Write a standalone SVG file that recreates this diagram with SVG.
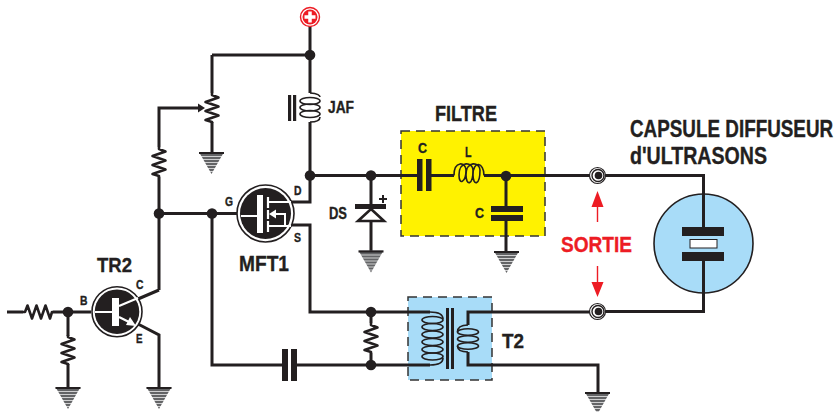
<svg xmlns="http://www.w3.org/2000/svg" width="836" height="412" viewBox="0 0 836 412">
<style>
.w{fill:none;stroke:#231f20;stroke-width:3;stroke-linejoin:miter}
.c{fill:none;stroke:#231f20;stroke-width:1.6}
.p{fill:#231f20}
.d{fill:#231f20}
.t{font-family:"Liberation Sans",Arial,sans-serif;font-weight:700;fill:#231f20;stroke:#231f20;stroke-width:0.35}
.box{stroke:#333;stroke-width:1.5;stroke-dasharray:9 6}
</style>
<defs>
<g id="gnd">
<polygon points="-12.5,0 12.5,0 0,22" fill="#636466"/>
<rect x="-12.5" y="0" width="25" height="2" fill="#231f20"/>
<path d="M-11 4.5H11M-10 7.5H10M-8 10.5H8M-6 13.5H6M-4.5 16.5H4.5M-3 19.5H3" stroke="#fff" stroke-width="0.7" fill="none"/>
</g>
<path id="res" d="M0 0V2L6.500 4.500-6.500 9 6.500 13.500-6.500 18 6.500 22.500-6.500 27 0 29V30" fill="none" stroke="#231f20" stroke-width="2.600" stroke-linejoin="round"/>
<g id="term">
<circle r="8" fill="#fff" stroke="#231f20" stroke-width="1.200"/>
<circle cx="0.500" r="6" fill="#fff" stroke="#231f20" stroke-width="1.400"/>
<circle cx="1" r="3.800" fill="#231f20"/>
</g>
</defs>
<g id="boxes">
<rect class="box" x="401" y="131" width="144" height="105" fill="#fff200"/>
<rect class="box" x="408" y="297" width="84" height="83" fill="#a8dcf8"/>
</g>
<g id="connectors">
<path class="w" d="M310 26V93M310 122V202H290M290 225H310V312H430M212 55H310M212 55V93M212 122V152"/>
<path class="w" d="M159 290V108H198M159 290L138 299M138 324L159 335V387M240 213.500H159M212 213.500V365H284M297 365H430"/>
<path class="w" d="M7 312H23M53 312H91M68 312V336M68 364V387"/>
<path class="w" d="M310 175.500H417M431 175.500H454M484 175.500H590M605 175.500H703.500V194M506 175.500V206M506 221V251M371 175.500V204M371 221V251"/>
<path class="w" d="M605 311.500H703.500V293M468 325V312H590M468 352V365H598V393M371 312V323M371 353V365"/>
</g>
<g id="plus">
<circle cx="310" cy="17" r="9.500" fill="#fff" stroke="#ed1c24" stroke-width="1.400"/>
<circle cx="310" cy="17" r="7.500" fill="#ed1c24"/>
<path d="M310 11.500V22.500M304.500 17H315.500" stroke="#fff" stroke-width="3.500"/>
</g>
<g id="junctions" class="d">
<circle cx="310" cy="55" r="5.300"/><circle cx="310" cy="175.500" r="5.300"/><circle cx="371" cy="175.500" r="5.300"/>
<circle cx="506" cy="176" r="5.300"/><circle cx="159" cy="213.500" r="5.300"/><circle cx="212" cy="213.500" r="5.300"/>
<circle cx="68" cy="312" r="5.300"/><circle cx="371" cy="312" r="5.300"/><circle cx="371" cy="365" r="5.300"/>
</g>
<g id="grounds">
<use href="#gnd" x="211.500" y="152"/><use href="#gnd" x="371" y="250.500"/><use href="#gnd" x="506.500" y="251"/>
<use href="#gnd" x="68" y="387"/><use href="#gnd" x="159" y="387"/><use href="#gnd" x="597.500" y="392"/>
</g>
<g id="R1"><use href="#res" x="212" y="93"/><path class="p" d="M198 103.500L205 108 198 112.500Z"/></g>
<g id="R2"><rect x="150" y="147" width="18" height="30" fill="#fff"/><use href="#res" x="159" y="147"/></g>
<g id="R3"><use href="#res" transform="translate(23 312) rotate(-90)"/></g>
<g id="R4"><use href="#res" x="68" y="335"/></g>
<g id="R5"><use href="#res" x="371" y="323"/></g>
<g id="JAF">
<path class="p" d="M288 95h3.200v26H288zM293 95h3.200v26H293z"/>
<path class="c" d="M310 93C318 93 320 96 320 97"/>
<ellipse class="c" cx="310" cy="101" rx="10" ry="3.500"/><ellipse class="c" cx="310" cy="107.500" rx="10" ry="3.500"/><ellipse class="c" cx="310" cy="114" rx="10" ry="3.500"/>
<path class="c" d="M320 117C320 121 315 122 310 122"/>
<text class="t" x="328" y="113" font-size="16" textLength="26" lengthAdjust="spacingAndGlyphs">JAF</text>
</g>
<g id="MFT1">
<circle cx="265.500" cy="213.500" r="28.500" fill="#fff" stroke="#231f20" stroke-width="1.600"/>
<circle cx="265.500" cy="213.500" r="25.500" fill="#231f20"/>
<rect x="257" y="195" width="6" height="38" fill="#fff"/>
<path d="M241 216H257M268 197V208M268 210V219M268 221V232" stroke="#fff" stroke-width="2.200" fill="none"/>
<path d="M268 202H291M268 226H291" stroke="#fff" stroke-width="2"/>
<path d="M272 214H285V226" stroke="#fff" stroke-width="2" fill="none"/>
<path d="M269 214L276 209.500V218.500Z" fill="#fff"/>
<text class="t" x="225" y="206" font-size="12" textLength="8" lengthAdjust="spacingAndGlyphs">G</text>
<text class="t" x="294" y="195" font-size="12" textLength="7.500" lengthAdjust="spacingAndGlyphs">D</text>
<text class="t" x="294" y="242" font-size="12" textLength="7" lengthAdjust="spacingAndGlyphs">S</text>
<text class="t" x="239" y="271" font-size="22" textLength="50" lengthAdjust="spacingAndGlyphs">MFT1</text>
</g>
<g id="DS">
<rect x="355" y="204" width="31" height="5" class="p"/>
<path d="M371 209L384 221H358Z" fill="#fff" stroke="#231f20" stroke-width="2.600"/>
<path d="M379 199H387M383 195V203" stroke="#231f20" stroke-width="2"/>
<text class="t" x="329" y="219" font-size="16" textLength="18" lengthAdjust="spacingAndGlyphs">DS</text>
</g>
<g id="FILTRE">
<text class="t" x="435" y="121" font-size="22" textLength="62" lengthAdjust="spacingAndGlyphs">FILTRE</text>
<path class="p" d="M417 159h5.500v32H417zM426 159h5.500v32H426zM491 206h32v6h-32zM491 215h32v6h-32z"/>
<path class="c" d="M454 175.500C454 160 466 162 466 170C466 182 459 186 459 175C459 160 473 162 473 170C473 186 466 186 466 175C466 160 480 162 480 170C480 186 473 186 473 175C473 160 484 162 484 175.500"/>
<text class="t" x="418" y="153" font-size="15" textLength="9" lengthAdjust="spacingAndGlyphs">C</text>
<text class="t" x="465" y="157" font-size="15" textLength="6.500" lengthAdjust="spacingAndGlyphs">L</text>
<text class="t" x="475" y="218" font-size="15" textLength="9" lengthAdjust="spacingAndGlyphs">C</text>
</g>
<g id="TR2">
<circle cx="117" cy="311.700" r="25" fill="#fff" stroke="#231f20" stroke-width="1.600"/>
<circle cx="117" cy="311.700" r="22.300" fill="#231f20"/>
<rect x="112" y="298" width="7" height="28" fill="#fff"/>
<path d="M95 312H112M119 306L138 298M119 317L133 324" stroke="#fff" stroke-width="2.200" fill="none"/>
<path d="M136 326L126 325 130 317Z" fill="#fff"/>
<text class="t" x="97" y="272" font-size="21" textLength="35" lengthAdjust="spacingAndGlyphs">TR2</text>
<text class="t" x="80" y="305" font-size="12" textLength="7.500" lengthAdjust="spacingAndGlyphs">B</text>
<text class="t" x="136" y="289" font-size="12" textLength="7.500" lengthAdjust="spacingAndGlyphs">C</text>
<text class="t" x="136" y="343" font-size="12" textLength="6.500" lengthAdjust="spacingAndGlyphs">E</text>
</g>
<g id="C3"><path class="p" d="M282 349h6v32h-6zM291 349h6v32h-6z"/></g>
<g id="T2">
<path class="p" d="M446 308h3v61h-3zM451 308h3v61h-3z"/>
<path class="c" d="M430 312C440 312 443 315 443 319M430 365C440 365 443 362 443 358"/>
<ellipse class="c" cx="432.500" cy="320" rx="10.500" ry="3.500"/><ellipse class="c" cx="432.500" cy="327" rx="10.500" ry="3.500"/><ellipse class="c" cx="432.500" cy="334.500" rx="10.500" ry="3.500"/><ellipse class="c" cx="432.500" cy="342" rx="10.500" ry="3.500"/><ellipse class="c" cx="432.500" cy="349.500" rx="10.500" ry="3.500"/><ellipse class="c" cx="432.500" cy="356.500" rx="10.500" ry="3.500"/>
<ellipse class="c" cx="468" cy="332" rx="10.500" ry="3.300"/><ellipse class="c" cx="468" cy="339" rx="10.500" ry="3.300"/><ellipse class="c" cx="468" cy="346" rx="10.500" ry="3.300"/>
<path class="c" d="M457.500 332C457.500 327 462 325 468 325M457.500 346C457.500 350 462 352 468 352"/>
<text class="t" x="502" y="348" font-size="21" textLength="22" lengthAdjust="spacingAndGlyphs">T2</text>
</g>
<g id="terminals"><use href="#term" x="597.500" y="175.500"/><use href="#term" x="597.500" y="311.500"/></g>
<g id="SORTIE">
<text x="561" y="252" font-family="Liberation Sans,Arial,sans-serif" font-weight="700" font-size="22" fill="#ed1c24" stroke="#ed1c24" stroke-width="0.35" textLength="71" lengthAdjust="spacingAndGlyphs">SORTIE</text>
<path d="M597.500 191L603.500 207H598.200V222H596.800V207H591.500ZM597.500 297L603.500 282H598.200V266H596.800V282H591.500Z" fill="#ed1c24"/>
</g>
<g id="CAPSULE">
<circle cx="703.500" cy="243.500" r="49.500" fill="#a8dcf8" stroke="#231f20" stroke-width="1.600"/>
<path class="w" d="M703.500 194V227M703.500 261V293"/>
<rect x="682" y="227" width="42" height="9" class="p"/>
<rect x="682" y="252" width="42" height="9" class="p"/>
<rect x="690" y="239.500" width="27" height="8.500" fill="#fff" stroke="#231f20" stroke-width="1"/>
<text class="t" transform="translate(630 137) scale(.82 1)" font-size="23">CAPSULE DIFFUSEUR</text>
<text class="t" x="630" y="164" font-size="23" textLength="137" lengthAdjust="spacingAndGlyphs">d'ULTRASONS</text>
</g>
</svg>
